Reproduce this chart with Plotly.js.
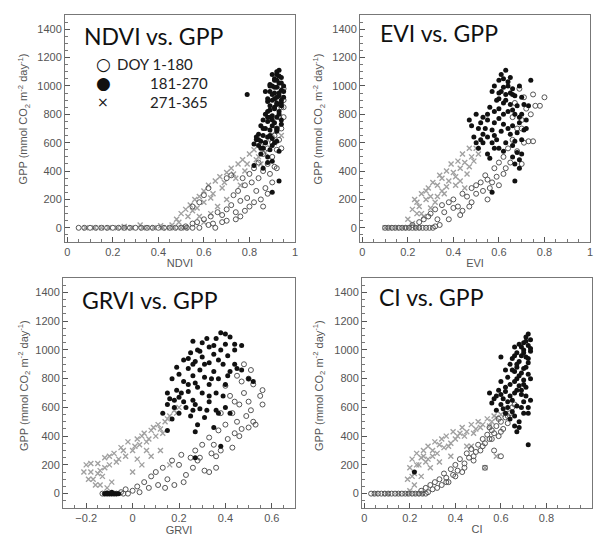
<!DOCTYPE html>
<html><head><meta charset="utf-8">
<script src="https://cdn.plot.ly/plotly-3.0.1.min.js"></script>
<style>html,body{margin:0;padding:0;background:#fff}#chart{width:595px;height:538px}</style>
</head><body><div id="chart"></div>
<script>
// Series names (DOY classes)
const seriesNames = ["DOY 1-180", "181-270", "271-365"];
const panelTitles = ["NDVI vs. GPP", "EVI vs. GPP", "GRVI vs. GPP", "CI vs. GPP"];
const axisTitles = ["NDVI", "EVI", "GRVI", "CI"];
const yTitle = 'GPP (mmol CO<sub>2</sub> m<sup>-2</sup> day<sup>-1</sup>)';

// ---------- NDVI ----------
const ndviOpenX = [0.05,0.1,0.15,0.2,0.25,0.3,0.35,0.4,0.45,0.5,0.55,0.58,0.52,0.55,0.57,0.6,0.62,0.63,0.65,0.66,0.68,0.7,0.7,0.72,0.73,0.74,0.75,0.76,0.77,0.78,0.79,0.8,0.8,0.81,0.82,0.83,0.84,0.84,0.85,0.86,0.86,0.87,0.88,0.88,0.89,0.9,0.9,0.91,0.91,0.92,0.92,0.93,0.93,0.94,0.94,0.95,0.6,0.62,0.58,0.55,0.7,0.72,
  0.075,0.125,0.175,0.225,0.275,0.325,0.375,0.425,0.475,0.525,0.9,0.88,0.92,0.94,0.95,0.86,0.82,0.78,0.76,0.74,0.68,0.64,0.94,0.95,0.93,0.95];
const ndviOpenY = [0,0,0,0,0,0,0,0,0,0,0,0,10,30,40,60,20,80,0,110,90,130,50,160,230,110,260,190,350,300,210,380,150,320,420,260,460,350,200,520,400,280,560,450,380,600,500,650,430,700,550,780,620,850,700,900,230,280,180,150,350,370,
  0,0,0,0,0,0,0,0,0,0,320,240,420,560,780,150,180,120,80,60,40,30,1000,980,900,850];
const ndviFillX = [0.93,0.92,0.94,0.91,0.93,0.90,0.92,0.94,0.89,0.91,0.93,0.95,0.90,0.88,0.92,0.94,0.91,0.89,0.93,0.87,0.90,0.92,0.86,0.88,0.91,0.94,0.85,0.87,0.89,0.92,0.84,0.86,0.88,0.90,0.83,0.85,0.87,0.91,0.82,0.84,0.86,0.89,0.93,0.85,0.88,0.90,0.79,0.93,0.90,0.82,0.88,0.86,0.92,0.89,0.87,0.91,0.95,0.94,0.90,0.88,0.92,0.93,0.91,0.89,
  0.90,0.92,0.94,0.91,0.89,0.93,0.90,0.92,0.88,0.94,0.89,0.91,0.93,0.88,0.90,0.92,0.86,0.89,0.84,0.87,0.83,0.90,0.85,0.92,0.94,0.95];
const ndviFillY = [1110,1080,1060,1040,1020,1000,990,970,960,950,930,920,900,890,870,860,850,830,820,800,790,780,760,750,740,730,720,700,690,680,660,650,640,630,620,610,600,600,590,580,560,550,540,520,500,470,940,330,250,440,460,420,880,1010,960,1050,1000,900,720,820,1100,1070,910,780,
  1080,1040,1020,990,1000,950,940,920,910,880,860,840,800,780,760,700,700,650,620,600,640,580,560,610,760,960];
const ndviXX = [0.08,0.12,0.18,0.22,0.28,0.33,0.38,0.42,0.47,0.5,0.46,0.48,0.5,0.52,0.54,0.55,0.56,0.58,0.6,0.6,0.62,0.64,0.65,0.67,0.68,0.7,0.72,0.74,0.75,0.77,0.78,0.8,0.82,0.84,0.86,0.88,0.9,0.92,0.85,0.76,0.66,0.58,0.6,0.63,0.7,
  0.15,0.25,0.35,0.45,0.52,0.49,0.53,0.57,0.63,0.69,0.73,0.79,0.83,0.87,0.91,0.94,0.25,0.32,0.41];
const ndviXY = [0,0,0,0,0,0,0,0,0,0,20,60,100,130,160,120,200,220,180,260,300,240,330,360,280,390,420,350,450,480,400,520,550,500,580,620,660,700,450,300,150,80,40,100,200,
  0,0,0,0,0,40,80,140,210,320,380,450,480,530,600,650,10,20,15];

// ---------- EVI ----------
const eviOpenX = [0.1,0.13,0.16,0.19,0.22,0.25,0.28,0.31,0.22,0.25,0.27,0.29,0.3,0.32,0.33,0.35,0.36,0.38,0.4,0.4,0.42,0.43,0.44,0.46,0.48,0.48,0.5,0.5,0.52,0.53,0.54,0.55,0.56,0.58,0.59,0.6,0.6,0.62,0.63,0.64,0.65,0.66,0.68,0.68,0.7,0.7,0.72,0.73,0.75,0.76,0.78,0.8,0.71,0.67,0.69,0.66,
  0.115,0.145,0.175,0.205,0.235,0.265,0.295,0.32,0.34,0.71,0.74,0.75,0.7,0.62,0.57,0.55,0.47,0.44,0.38];
const eviOpenY = [0,0,0,0,0,0,0,0,20,40,60,80,100,130,60,160,110,180,200,140,150,90,240,220,180,280,300,240,320,260,370,340,280,420,360,460,300,500,420,560,460,620,540,700,760,450,840,610,940,860,860,920,920,880,980,780,
  0,0,0,0,0,0,0,10,20,600,800,610,700,380,320,200,150,120,60];
const eviFillX = [0.63,0.61,0.65,0.60,0.64,0.58,0.62,0.66,0.69,0.74,0.57,0.60,0.63,0.67,0.70,0.59,0.62,0.65,0.68,0.71,0.56,0.60,0.64,0.67,0.70,0.50,0.53,0.47,0.55,0.58,0.62,0.66,0.69,0.72,0.51,0.54,0.57,0.61,0.65,0.68,0.71,0.49,0.52,0.55,0.59,0.63,0.67,0.70,0.51,0.55,0.58,0.62,0.66,0.69,0.56,0.67,0.69,0.67,0.57,0.50,0.53,0.65,0.70,
  0.62,0.64,0.61,0.66,0.60,0.63,0.66,0.58,0.62,0.55,0.69,0.60,0.64,0.58,0.53,0.66,0.60,0.72,0.48,0.52,0.57,0.68,0.73];
const eviFillY = [1110,1080,1060,1040,1030,1000,990,980,1000,1040,960,950,940,930,920,900,880,870,860,870,850,840,820,800,800,800,780,760,760,740,730,720,740,760,700,700,690,680,660,670,690,640,620,640,620,600,610,620,560,520,560,540,500,480,490,450,420,330,250,600,660,950,520,
  1050,1000,960,940,910,900,830,820,800,800,780,770,700,650,600,580,560,700,720,740,600,530,860];
const eviXX = [0.1,0.12,0.15,0.18,0.2,0.24,0.2,0.22,0.23,0.25,0.26,0.28,0.29,0.3,0.31,0.33,0.34,0.35,0.37,0.38,0.39,0.4,0.42,0.43,0.44,0.45,0.47,0.48,0.5,0.24,0.27,0.32,0.36,0.41,0.46,0.3,
  0.22,0.26,0.33,0.37,0.41,0.43,0.47,0.49,0.51,0.35,0.28,0.24,0.45];
const eviXY = [0,0,0,0,0,0,60,130,200,150,240,200,280,220,320,300,370,260,400,330,450,390,470,420,520,460,560,500,560,100,80,180,240,300,380,140,
  30,100,220,290,360,330,430,470,520,350,260,180,280];

// ---------- GRVI ----------
const grviOpenX = [-0.12,-0.1,-0.08,-0.05,-0.03,0,0.02,0.03,0.05,0.07,0.08,0.1,0.11,0.13,0.15,0.17,0.18,0.2,0.21,0.23,0.25,0.27,0.28,0.3,0.31,0.33,0.34,0.36,0.37,0.38,0.4,0.41,0.43,0.44,0.45,0.46,0.47,0.48,0.49,0.5,0.5,0.51,0.52,0.53,0.55,0.56,0.56,0.48,0.45,0.42,0.4,0.38,0.35,0.29,
  -0.13,-0.11,-0.09,-0.07,-0.04,-0.02,0.51,0.47,0.44,0.52,0.5,0.46,0.43,0.36,0.33,0.26,0.22,0.14];
const grviOpenY = [0,0,0,10,30,20,50,10,80,40,120,150,60,180,100,230,60,200,270,130,250,300,230,340,160,390,280,180,440,300,480,380,560,420,500,620,450,700,540,640,800,580,760,480,680,620,720,900,820,680,750,560,340,250,
  0,0,0,0,0,0,860,780,640,500,460,400,320,260,150,180,80,40];
const grviFillX = [0.38,0.40,0.42,0.36,0.26,0.30,0.44,0.47,0.33,0.28,0.38,0.25,0.35,0.41,0.30,0.22,0.27,0.33,0.39,0.44,0.19,0.24,0.29,0.35,0.42,0.47,0.20,0.26,0.31,0.37,0.17,0.22,0.27,0.33,0.40,0.15,0.19,0.24,0.30,0.36,0.16,0.20,0.26,0.33,0.15,0.18,0.23,0.29,0.36,0.40,0.20,0.25,0.31,0.37,0.17,0.28,0.35,0.27,0.15,0.38,0.27,0.13,0.52,0.50,0.45,0.24,-0.11,-0.09,-0.07,
  -0.12,-0.10,-0.08,-0.06,-0.11,-0.09,0.32,0.35,0.29,0.40,0.37,0.31,0.26,0.41,0.34,0.28,0.24,0.21,0.33,0.39,0.27,0.22,0.32,0.26,0.42,0.18,0.44];
const grviFillY = [1120,1110,1090,1080,1060,1050,1040,1030,1020,1000,1000,980,970,960,950,930,920,910,900,900,880,870,860,850,850,860,830,820,810,800,800,780,770,760,760,700,720,710,700,700,660,670,650,640,620,600,600,590,580,600,560,540,530,560,520,480,460,430,440,330,250,560,780,800,870,940,0,0,0,
  0,0,0,0,5,10,1080,1030,990,1040,930,900,900,820,800,740,760,700,680,680,620,640,580,580,560,650,1000];
const grviXX = [-0.2,-0.18,-0.17,-0.15,-0.14,-0.13,-0.12,-0.1,-0.08,-0.07,-0.05,-0.03,-0.02,0,0.02,0.03,0.05,0.06,0.08,0.1,0.11,0.12,0.14,0.16,0.18,0.2,-0.19,-0.16,-0.11,-0.09,0,0.04,0.08,0.12,0.16,
  -0.21,-0.18,-0.15,-0.12,-0.1,-0.06,-0.04,0.01,0.04,0.07,0.09,0.13,0.15,0.19,0.02,0.06,-0.14];
const grviXY = [200,150,100,210,160,120,250,200,280,220,320,260,360,300,380,340,420,360,440,400,480,450,500,540,580,600,100,60,40,80,150,200,260,300,200,
  150,210,140,180,260,240,300,330,400,380,460,420,520,560,240,300,60];

// ---------- CI ----------
const ciOpenX = [0.03,0.06,0.09,0.12,0.15,0.18,0.21,0.24,0.27,0.25,0.27,0.29,0.3,0.31,0.33,0.34,0.35,0.36,0.38,0.39,0.4,0.41,0.42,0.44,0.45,0.46,0.47,0.49,0.5,0.51,0.52,0.53,0.54,0.55,0.56,0.57,0.58,0.59,0.6,0.61,0.62,0.63,0.64,0.65,0.6,0.53,0.43,0.37,0.48,0.57,0.66,
  0.045,0.075,0.105,0.135,0.165,0.195,0.225,0.255,0.28,0.32,0.36,0.4,0.44,0.48,0.52,0.56,0.6,0.63,0.55,0.59];
const ciOpenY = [0,0,0,0,0,0,0,0,0,20,40,60,30,80,100,60,140,110,170,130,200,160,240,210,280,250,310,290,340,300,380,350,410,380,440,420,470,400,500,450,530,490,560,600,260,180,150,80,230,300,620,
  0,0,0,0,0,0,0,0,10,40,80,120,180,260,330,380,430,540,460,520];
const ciFillX = [0.72,0.71,0.73,0.70,0.72,0.68,0.66,0.70,0.73,0.67,0.69,0.71,0.60,0.65,0.68,0.72,0.64,0.67,0.70,0.62,0.66,0.69,0.72,0.63,0.67,0.70,0.60,0.64,0.68,0.71,0.59,0.62,0.66,0.69,0.55,0.58,0.61,0.65,0.70,0.56,0.60,0.63,0.67,0.72,0.58,0.62,0.66,0.70,0.68,0.66,0.67,0.72,0.22,0.64,0.73,0.69,
  0.71,0.69,0.73,0.70,0.66,0.72,0.67,0.71,0.65,0.68,0.73,0.66,0.70,0.62,0.67,0.64,0.60,0.57,0.71,0.63,0.69,0.61,0.65,0.72,0.68];
const ciFillY = [1110,1090,1070,1050,1030,1040,1020,1000,990,980,960,950,950,940,920,910,900,880,870,860,850,840,830,810,800,790,780,760,750,740,720,710,700,690,700,680,660,650,640,630,620,600,610,600,580,560,540,560,500,470,430,340,150,520,650,720,
  1060,1020,1010,980,960,940,900,880,860,820,800,780,760,740,720,680,690,660,680,640,600,590,570,560,460];
const ciXX = [0.05,0.1,0.15,0.2,0.25,0.19,0.2,0.21,0.22,0.23,0.24,0.25,0.26,0.27,0.28,0.3,0.31,0.32,0.34,0.35,0.36,0.38,0.39,0.4,0.42,0.43,0.45,0.47,0.49,0.5,0.52,0.54,0.55,0.57,0.6,0.22,0.25,0.29,0.33,0.38,0.45,0.53,0.47,0.58,
  0.21,0.23,0.26,0.28,0.3,0.33,0.37,0.41,0.44,0.48,0.51,0.56,0.58,0.62,0.2,0.23,0.18,0.1];
const ciXY = [0,0,0,0,0,100,180,240,140,280,200,250,300,220,330,300,360,280,380,320,400,350,430,380,420,460,430,480,450,500,480,520,470,540,550,60,120,180,220,260,330,180,330,260,
  120,200,260,240,260,340,330,400,400,420,460,500,530,560,20,0,0,0];

// Axis ranges
const xRanges = [[-0.01, 1], [-0.01, 1], [-0.3, 0.7], [-0.01, 1]];
const yRange = [-100, 1500];

const panels = [
  {open:[ndviOpenX, ndviOpenY], fill:[ndviFillX, ndviFillY], xs:[ndviXX, ndviXY]},
  {open:[eviOpenX, eviOpenY], fill:[eviFillX, eviFillY], xs:[eviXX, eviXY]},
  {open:[grviOpenX, grviOpenY], fill:[grviFillX, grviFillY], xs:[grviXX, grviXY]},
  {open:[ciOpenX, ciOpenY], fill:[ciFillX, ciFillY], xs:[ciXX, ciXY]}
];

const traces = [];
panels.forEach((p, i) => {
  const xa = i === 0 ? 'x' : 'x' + (i + 1);
  const ya = i === 0 ? 'y' : 'y' + (i + 1);
  traces.push({type:'scatter', mode:'markers', x:p.xs[0], y:p.xs[1], xaxis:xa, yaxis:ya,
    name:seriesNames[2], showlegend:false,
    marker:{symbol:'x-thin-open', size:5, color:'#a0a0a0', line:{width:1.4, color:'#a0a0a0'}}});
  traces.push({type:'scatter', mode:'markers', x:p.open[0], y:p.open[1], xaxis:xa, yaxis:ya,
    name:seriesNames[0], showlegend:false,
    marker:{symbol:'circle-open', size:5, color:'#555', line:{width:1, color:'#555'}}});
  traces.push({type:'scatter', mode:'markers', x:p.fill[0], y:p.fill[1], xaxis:xa, yaxis:ya,
    name:seriesNames[1], showlegend:false,
    marker:{symbol:'circle', size:5, color:'#111'}});
});

const xDomains = [[65/595, 295/595], [360/595, 590/595], [63/595, 295/595], [362/595, 592/595]];
const yDomains = [[1-242/538, 1-15/538], [1-242/538, 1-15/538], [1-508/538, 1-278/538], [1-508/538, 1-278/538]];
const tickFont = {family:'Liberation Sans, Arial, sans-serif', size:11, color:'#555'};

const layout = {
  width:595, height:538, margin:{l:0, r:0, t:0, b:0},
  paper_bgcolor:'#fff', plot_bgcolor:'#fff', showlegend:false,
  annotations:[]
};
for (let i = 0; i < 4; i++) {
  const s = i === 0 ? '' : String(i + 1);
  layout['xaxis' + s] = {domain:xDomains[i], anchor:'y' + s, range:xRanges[i], dtick:0.2,
    showline:true, mirror:true, linecolor:'#777', linewidth:1, ticks:'inside', ticklen:5, tickcolor:'#555',
    minor:{ticks:'inside', ticklen:3, dtick:0.05, tickcolor:'#777'},
    showgrid:false, zeroline:false, tickfont:tickFont,
    title:{text:axisTitles[i], font:tickFont, standoff:2}};
  layout['yaxis' + s] = {domain:yDomains[i], anchor:'x' + s, range:yRange, dtick:200,
    showline:true, mirror:true, linecolor:'#777', linewidth:1, ticks:'inside', ticklen:5, tickcolor:'#555',
    minor:{ticks:'inside', ticklen:3, dtick:50, tickcolor:'#777'},
    showgrid:false, zeroline:false, tickfont:tickFont};
}
// y-axis titles placed next to the tick labels
const yTitleX = [24, 319, 24, 319];
const yTitleY = [0.54, 0.54, 0.53, 0.53];
for (let i = 0; i < 4; i++) {
  const s = i === 0 ? '' : String(i + 1);
  layout.annotations.push({text:yTitle, xref:'paper', yref:'y' + s + ' domain', x:yTitleX[i]/595, y:yTitleY[i],
    xanchor:'center', yanchor:'middle', textangle:-90, showarrow:false, font:tickFont});
}
const titlePos = [[0.074, 0.907], [0.078, 0.92], [0.073, 0.904], [0.066, 0.917]];
panelTitles.forEach((t, i) => {
  const s = i === 0 ? '' : String(i + 1);
  layout.annotations.push({text:t, xref:'x' + s + ' domain', yref:'y' + s + ' domain',
    x:titlePos[i][0], y:titlePos[i][1], xanchor:'left', yanchor:'middle', showarrow:false,
    font:{family:'Lato, Carlito, sans-serif', size:23, color:'#111'}});
});
// Legend drawn as text in the first panel
const legendSymbols = ['\u25CB', '\u25CF', '\u00D7'];
const legendSymbolSizes = [17, 17, 14];
const legendTextLeft = [115, 148, 148];
const legendRowY = [64, 83, 102];
const legendLabels = [seriesNames[0], seriesNames[1], seriesNames[2]];
for (let k = 0; k < 3; k++) {
  layout.annotations.push({text:legendSymbols[k], xref:'paper', yref:'paper', x:103/595, y:1-legendRowY[k]/538,
    xanchor:'center', yanchor:'middle', showarrow:false,
    font:{family:'DejaVu Sans, sans-serif', size:legendSymbolSizes[k], color:'#111'}});
  layout.annotations.push({text:legendLabels[k], xref:'paper', yref:'paper', x:legendTextLeft[k]/595, y:1-legendRowY[k]/538,
    xanchor:'left', yanchor:'middle', showarrow:false,
    font:{family:'Lato, Carlito, sans-serif', size:15, color:'#222'}});
}
Plotly.newPlot('chart', traces, layout, {displayModeBar:false, staticPlot:true});
</script></body></html>
